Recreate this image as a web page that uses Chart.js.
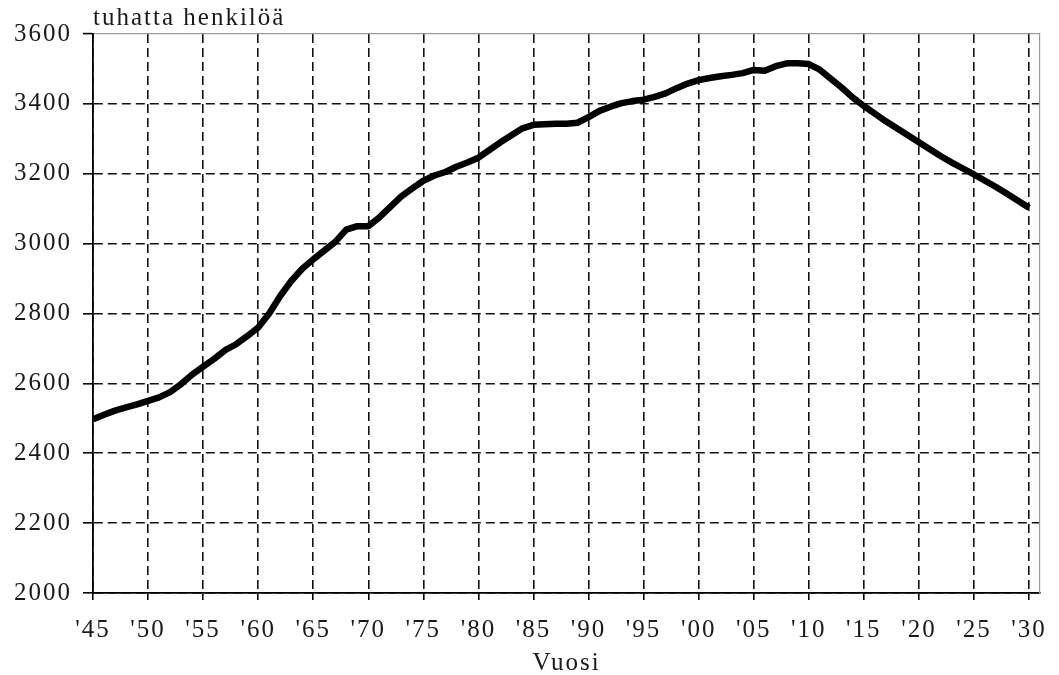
<!DOCTYPE html>
<html>
<head>
<meta charset="utf-8">
<script src="https://cdn.jsdelivr.net/npm/chart.js@4.4.1/dist/chart.umd.min.js"></script>
<style>
  html, body { margin: 0; padding: 0; background: #ffffff; }
  canvas { display: block; }
</style>
</head>
<body>
<canvas id="c" width="1059" height="675"></canvas>
<script>
// ---- data ----
const years = [
  1945, 1946, 1947, 1948, 1949, 1950, 1951, 1952, 1953, 1954,
  1955, 1956, 1957, 1958, 1959, 1960, 1961, 1962, 1963, 1964,
  1965, 1966, 1967, 1968, 1969, 1970, 1971, 1972, 1973, 1974,
  1975, 1976, 1977, 1978, 1979, 1980, 1981, 1982, 1983, 1984,
  1985, 1986, 1987, 1988, 1989, 1990, 1991, 1992, 1993, 1994,
  1995, 1996, 1997, 1998, 1999, 2000, 2001, 2002, 2003, 2004,
  2005, 2006, 2007, 2008, 2009, 2010, 2011, 2012, 2013, 2014,
  2015, 2016, 2017, 2018, 2019, 2020, 2021, 2022, 2023, 2024,
  2025, 2026, 2027, 2028, 2029, 2030
];
const population = [
  2497, 2510, 2522, 2531, 2540, 2550, 2560, 2575, 2598, 2625,
  2648, 2670, 2695, 2712, 2735, 2760, 2800, 2850, 2893, 2928,
  2955, 2980, 3005, 3040, 3050, 3050, 3075, 3105, 3135, 3158,
  3180, 3195, 3205, 3220, 3232, 3246, 3268, 3290, 3310, 3330,
  3340, 3342, 3343, 3343, 3346, 3362, 3380, 3392, 3402, 3408,
  3412, 3420, 3430, 3445, 3458, 3468, 3474, 3479, 3483, 3488,
  3497, 3495, 3508, 3516, 3516, 3514, 3498, 3472, 3446, 3418,
  3394, 3372, 3350, 3330, 3310, 3290, 3270, 3250, 3232, 3215,
  3198, 3180, 3162, 3143, 3123, 3103
];
const xTickLabels = ["'45","'50","'55","'60","'65","'70","'75","'80","'85","'90",
                     "'95","'00","'05","'10","'15","'20","'25","'30"];
const xTickYears  = [1945,1950,1955,1960,1965,1970,1975,1980,1985,1990,
                     1995,2000,2005,2010,2015,2020,2025,2030];
const yTickLabels = ["2000","2200","2400","2600","2800","3000","3200","3400","3600"];
const yTickValues = [2000, 2200, 2400, 2600, 2800, 3000, 3200, 3400, 3600];
const yAxisLabel = 'tuhatta henkilöä';
const xAxisLabel = 'Vuosi';

// ---- chart ----
const FONT = { family: "'Liberation Serif', 'Times New Roman', serif", size: 25 };
const TEXT = '#1a1a1a';

const letterSpacingPlugin = {
  id: 'letterSpacing',
  beforeDraw(chart) { chart.ctx.letterSpacing = '2px'; }
};

new Chart(document.getElementById('c'), {
  type: 'line',
  data: {
    datasets: [{
      data: years.map((yr, i) => ({ x: yr, y: population[i] })),
      borderColor: '#000000',
      borderWidth: 6.5,
      pointRadius: 0,
      tension: 0,
      borderJoinStyle: 'round',
      borderCapStyle: 'butt',
      fill: false
    }]
  },
  options: {
    responsive: false,
    animation: false,
    layout: { padding: { left: 0, right: 16, top: 0, bottom: 0 } },
    plugins: {
      legend: { display: false },
      tooltip: { enabled: false },
      title: {
        display: true,
        text: yAxisLabel,
        align: 'start',
        fullSize: false,
        color: TEXT,
        font: { ...FONT, weight: 'normal' },
        padding: { top: 3, bottom: 1 }
      }
    },
    scales: {
      x: {
        type: 'linear',
        min: 1945,
        max: 2031,
        afterFit(scale) { scale.height = 82; },
        ticks: {
          stepSize: 5,
          includeBounds: false,
          color: TEXT,
          font: FONT,
          padding: 15,
          maxRotation: 0,
          autoSkip: false,
          callback: (v) => {
            const i = xTickYears.indexOf(v);
            return i >= 0 ? xTickLabels[i] : '';
          }
        },
        grid: {
          color: '#111111',
          lineWidth: 1.6,
          tickLength: 7,
          tickColor: '#000000',
          tickWidth: 1.6
        },
        border: { display: true, color: '#000000', width: 1.8, dash: [9, 5] },
        title: {
          display: true,
          text: xAxisLabel,
          color: TEXT,
          font: FONT,
          padding: { top: 0, bottom: -3 }
        }
      },
      y: {
        type: 'linear',
        min: 2000,
        max: 3600,
        afterFit(scale) { scale.width = 93; },
        ticks: {
          stepSize: 200,
          color: TEXT,
          font: FONT,
          padding: 11,
          callback: (v) => {
            const i = yTickValues.indexOf(v);
            return i >= 0 ? yTickLabels[i] : '';
          }
        },
        grid: {
          color: (ctx) => (ctx.tick && ctx.tick.value === 3600) ? '#9a9a9a' : '#111111',
          lineWidth: (ctx) => (ctx.tick && ctx.tick.value === 3600) ? 1.2 : 1.6,
          tickLength: 10,
          tickColor: '#000000',
          tickWidth: 1.6
        },
        border: {
          display: true,
          color: '#000000',
          width: 1.8,
          dash: (ctx) => (ctx.tick && ctx.tick.value === 3600) ? [] : [9, 5]
        }
      },
      yRight: {
        type: 'linear',
        position: 'right',
        display: true,
        min: 2000,
        max: 3600,
        afterFit(scale) { scale.width = 0; },
        ticks: { display: false },
        grid: { display: false, drawTicks: false },
        border: { display: true, color: '#9a9a9a', width: 1.2 }
      }
    }
  },
  plugins: [letterSpacingPlugin]
});
</script>
</body>
</html>
